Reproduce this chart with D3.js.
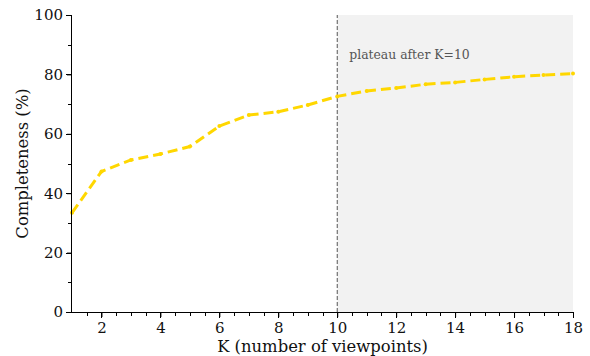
<!DOCTYPE html>
<html>
<head>
<meta charset="utf-8">
<script src="https://cdn.jsdelivr.net/npm/d3@7"></script>
<style>
    body { margin: 0; background: #fff; }
    text { font-family: "DejaVu Serif", serif; }
</style>
</head>
<body>
<div id="chart"></div>
<script>
    // Data
    const kValues = [1, 2, 3, 4, 5, 6, 7, 8, 9, 10, 11, 12, 13, 14, 15, 16, 17, 18];
    const completeness = [33.4, 47.3, 51.2, 53.2, 55.7, 62.6, 66.3, 67.4, 69.7, 72.6, 74.4, 75.4, 76.7, 77.3, 78.3, 79.2, 79.8, 80.3];
    const xTicks = [2, 4, 6, 8, 10, 12, 14, 16, 18];
    const xMinorTicks = [1.5, 2.5, 3, 3.5, 4.5, 5, 5.5, 6.5, 7, 7.5, 8.5, 9, 9.5, 10.5, 11, 11.5, 12.5, 13, 13.5, 14.5, 15, 15.5, 16.5, 17, 17.5];
    const yTicks = [0, 20, 40, 60, 80, 100];
    const yMinorTicks = [10, 30, 50, 70, 90];
    const plateauStart = 10;
    const plateauLabel = 'plateau after K=10';

    let width = 590,
        height = 356,
        margin = {top: 15, right: 17, bottom: 44, left: 72};

    let chartWidth = width - margin.left - margin.right,
        chartHeight = height - margin.top - margin.bottom;

    let x = d3.scaleLinear().domain([1, 18]).range([0, chartWidth]);
    let y = d3.scaleLinear().domain([0, 100]).range([chartHeight, 0]);

    let svg = d3.select('#chart')
        .append('svg')
        .attr('width', width)
        .attr('height', height);

    let canvas = svg.append('g')
        .attr('transform', 'translate(' + margin.left + ',' + margin.top + ')');

    // Shaded plateau region
    canvas.append('rect')
        .attr('x', x(plateauStart))
        .attr('y', y(100))
        .attr('width', x(18) - x(plateauStart))
        .attr('height', y(0) - y(100))
        .attr('fill', '#f2f2f2');

    // Vertical marker at K=10
    canvas.append('line')
        .attr('x1', x(plateauStart))
        .attr('x2', x(plateauStart))
        .attr('y1', y(0))
        .attr('y2', y(100))
        .style('stroke', '#555')
        .style('stroke-width', 1)
        .style('stroke-dasharray', '4,2');

    canvas.append('text')
        .attr('x', x(plateauStart) + 12)
        .attr('y', 44)
        .attr('font-size', 12.4)
        .attr('fill', '#555')
        .text(plateauLabel);

    // Series line
    let points = kValues.map((k, i) => ({k: k, v: completeness[i]}));

    let line = d3.line()
        .x(d => x(d.k))
        .y(d => y(d.v));

    canvas.append('path')
        .datum(points)
        .attr('d', line)
        .attr('fill', 'none')
        .style('stroke', '#ffd700')
        .style('stroke-width', 3)
        .style('stroke-dasharray', '10,5');

    canvas.selectAll('.dot')
        .data(points)
        .enter()
        .append('circle')
        .attr('class', 'dot')
        .attr('cx', d => x(d.k))
        .attr('cy', d => y(d.v))
        .attr('r', 2)
        .attr('fill', '#ffd700');

    // Tick labels via d3 axes (no tick lines; those are drawn below)
    canvas.append('g')
        .attr('transform', 'translate(0,' + chartHeight + ')')
        .call(d3.axisBottom(x).tickValues(xTicks).tickSize(5).tickPadding(5).tickFormat(d3.format('d')));

    canvas.append('g')
        .call(d3.axisLeft(y).tickValues(yTicks).tickSize(5).tickPadding(4));

    svg.selectAll('.domain').remove();

    // Tick marks, outward like matplotlib
    let ticks = canvas.append('g').attr('class', 'ticks');

    function xTickMarks(values, size) {
        ticks.selectAll(null)
            .data(values)
            .enter()
            .append('line')
            .attr('x1', d => Math.round(x(d)) + 0.5)
            .attr('x2', d => Math.round(x(d)) + 0.5)
            .attr('y1', chartHeight + 1)
            .attr('y2', chartHeight + 1 + size)
            .attr('stroke', '#000')
            .attr('stroke-width', 1);
    }

    function yTickMarks(values, size) {
        ticks.selectAll(null)
            .data(values)
            .enter()
            .append('line')
            .attr('x1', -1)
            .attr('x2', -1 - size)
            .attr('y1', d => Math.round(y(d)) + 0.5)
            .attr('y2', d => Math.round(y(d)) + 0.5)
            .attr('stroke', '#000')
            .attr('stroke-width', 1);
    }

    xTickMarks(xTicks, 5);
    xTickMarks(xMinorTicks, 3);
    yTickMarks(yTicks, 5);
    yTickMarks(yMinorTicks, 3);

    // Spines (left and bottom only)
    canvas.append('line')
        .attr('x1', -0.5).attr('x2', chartWidth)
        .attr('y1', chartHeight + 0.5).attr('y2', chartHeight + 0.5)
        .style('stroke', '#000').style('stroke-width', 1);

    canvas.append('line')
        .attr('x1', -0.5).attr('x2', -0.5)
        .attr('y1', 0).attr('y2', chartHeight + 0.5)
        .style('stroke', '#000').style('stroke-width', 1);

    svg.selectAll('.tick text')
        .attr('font-size', 15)
        .attr('font-family', '"DejaVu Serif", serif')
        .attr('fill', '#111');

    // Axis titles
    svg.append('text')
        .attr('x', margin.left + chartWidth / 2)
        .attr('y', height - 4)
        .attr('text-anchor', 'middle')
        .attr('font-size', 16.4)
        .attr('fill', '#111')
        .text('K (number of viewpoints)');

    svg.append('text')
        .attr('transform', 'translate(28,' + (margin.top + chartHeight / 2) + ') rotate(-90)')
        .attr('text-anchor', 'middle')
        .attr('font-size', 16.4)
        .attr('fill', '#111')
        .text('Completeness (%)');
</script>
</body>
</html>
